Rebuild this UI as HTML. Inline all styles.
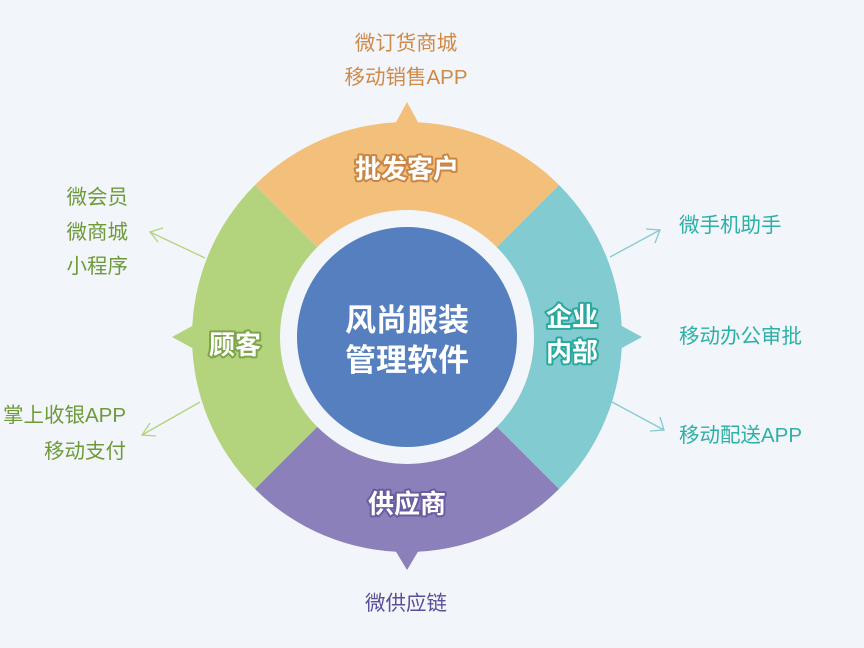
<!DOCTYPE html>
<html><head><meta charset="utf-8"><style>
html,body{margin:0;padding:0;background:#f2f5fa;}
svg{display:block;font-family:"Liberation Sans","Noto Sans CJK SC",sans-serif;}
</style></head><body>
<svg width="864" height="648" viewBox="0 0 864 648" xmlns="http://www.w3.org/2000/svg">
<rect width="864" height="648" fill="#f2f5fa"/>
<g transform="translate(407,337)">
<path d="M0,0 L-152.03,-152.03 A215,215 0 0 1 152.03,-152.03 Z" fill="#f3c07b"/>
<path d="M0,0 L152.03,-152.03 A215,215 0 0 1 152.03,152.03 Z" fill="#82cbd0"/>
<path d="M0,0 L152.03,152.03 A215,215 0 0 1 -152.03,152.03 Z" fill="#8b80ba"/>
<path d="M0,0 L-152.03,152.03 A215,215 0 0 1 -152.03,-152.03 Z" fill="#b3d47c"/>
<polygon points="-12,-213 0,-235 12,-213" fill="#f3c07b"/>
<polygon points="-12,213 0,233 12,213" fill="#8b80ba"/>
<polygon points="-213,-12 -235,0 -213,12" fill="#b3d47c"/>
<polygon points="213,-12 235,0 213,12" fill="#82cbd0"/>
<circle r="127" fill="#f2f5fa"/>
<circle r="110" fill="#557fbf"/>
<text x="0" y="-6" text-anchor="middle" font-size="31" font-weight="bold" fill="#fff">风尚服装</text>
<text x="0" y="34" text-anchor="middle" font-size="31" font-weight="bold" fill="#fff">管理软件</text>
<g font-size="26" font-weight="bold" fill="#fff" stroke-width="4" paint-order="stroke" stroke-linejoin="round" text-anchor="middle">
<text x="0" y="-159" stroke="#c98544">批发客户</text>
<text x="0" y="176" stroke="#6a5ca0">供应商</text>
<text x="-172" y="17" stroke="#7ea449">顾客</text>
<text x="165" y="-11" stroke="#2aa99f">企业</text>
<text x="165" y="24" stroke="#2aa99f">内部</text>
</g>
</g>
<g fill="none" stroke-width="1.3">
<g stroke="#b3d47c">
<line x1="205" y1="258" x2="150" y2="232"/><polyline points="163,228 150,232 158,242"/>
<line x1="200" y1="402" x2="142" y2="435"/><polyline points="150,423 142,435 156,436"/>
</g>
<g stroke="#82cbd0">
<line x1="610" y1="257" x2="660" y2="230"/><polyline points="646,229 660,230 655,243"/>
<line x1="612" y1="402" x2="664" y2="430"/><polyline points="660,417 664,430 650,431"/>
</g>
</g>
<g font-size="20.5">
<g fill="#cf8a48" text-anchor="middle">
<text x="406" y="50">微订货商城</text>
<text x="406" y="84">移动销售APP</text>
</g>
<g fill="#6e9a3a" text-anchor="end">
<text x="128" y="204">微会员</text>
<text x="128" y="239">微商城</text>
<text x="128" y="273">小程序</text>
<text x="126" y="422">掌上收银APP</text>
<text x="126" y="458">移动支付</text>
</g>
<g fill="#2db0a6">
<text x="679" y="232">微手机助手</text>
<text x="679" y="343">移动办公审批</text>
<text x="679" y="442">移动配送APP</text>
</g>
<text x="406" y="610" fill="#5a4f9a" text-anchor="middle">微供应链</text>
</g>
</svg>
</body></html>
